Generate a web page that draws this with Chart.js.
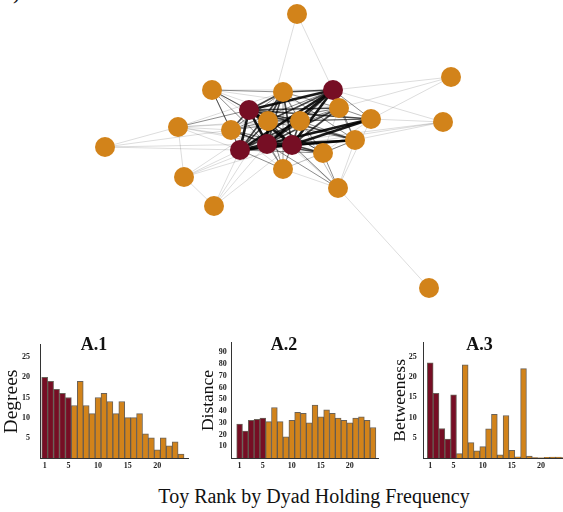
<!DOCTYPE html>
<html>
<head>
<meta charset="utf-8">
<script src="https://cdn.jsdelivr.net/npm/chart.js@4.4.0/dist/chart.umd.min.js"></script>
<style>
  html, body { margin: 0; padding: 0; background: #fff; width: 563px; height: 512px; overflow: hidden; }
  body { position: relative; }
  canvas { position: absolute; }
  .txt { position: absolute; font-family: 'Liberation Serif', 'Times New Roman', serif; color: #111; white-space: nowrap; }
</style>
</head>
<body>
<div class="txt" style="left:-3px; top:-19px; font-size:22px; line-height:22px; word-spacing:17px;">A) Observed</div>
<canvas id="netChart" width="563" height="320" style="left:0; top:0;"></canvas>
<canvas id="chartA1" width="210" height="148" style="left:0; top:330px;"></canvas>
<canvas id="chartA2" width="228" height="148" style="left:190px; top:330px;"></canvas>
<canvas id="chartA3" width="188" height="148" style="left:389px; top:330px;"></canvas>
<div class="txt" style="left:114px; width:400px; text-align:center; top:486px; font-size:20px; line-height:20px;">Toy Rank by Dyad Holding Frequency</div>
<script>
// toy ranks (1 = most held by dyads)
const ranks = [1, 2, 3, 4, 5, 6, 7, 8, 9, 10, 11, 12, 13, 14, 15, 16, 17, 18, 19, 20, 21, 22, 23, 24];
const topN = 5;

// bar panels
const degrees = [20, 19, 17, 16, 15, 13, 19, 13, 11, 15, 16, 14, 11, 14, 10, 10, 11, 6, 5, 2, 5, 3, 4, 1];
const distance = [29, 23, 32, 33, 34, 31, 43, 31, 18, 32, 39, 38, 30, 45, 35, 41, 38, 34, 32, 30, 34, 35, 32, 26];
const betweenness = [23.5, 16, 7.3, 4.7, 15.6, 1.1, 23, 3.8, 1.8, 2.8, 7.2, 10.8, 0.8, 10.5, 1.9, 0.3, 22.1, 0.5, 0.1, 0.05, 0.15, 0.2, 0.2, 0.1];

const xTicks = [1, 5, 10, 15, 20];
const degTicks = [5, 10, 15, 20, 25];
const distTicks = [10, 20, 30, 40, 50, 60, 70, 80, 90];
const betTicks = [5, 10, 15, 20, 25];

// network layout coordinates, by rank
const nodeX = [-0.13, 0.12, -0.40, -0.31, 0.53, 0.43, -0.12, 0.75, 0.91, 0.03, 0.20, -0.49, 0.03, 0.59, -1.02, -0.68, 0.58, -0.96, 1.63, 0.17, -0.66, 1.71, -1.75, 1.49];
const nodeY = [0.26, 0.25, 0.20, 0.60, 0.80, 0.17, 0.49, 0.30, 0.51, 0.78, 0.49, 0.40, 0.01, 0.62, 0.43, 0.80, -0.18, -0.07, 0.48, 1.56, -0.36, 0.93, 0.23, -1.18];

// co-holding ties: [rank a, rank b, strength 1-4]
const edges = [
  [1, 2, 4], [1, 4, 4], [1, 7, 4], [1, 11, 3], [2, 4, 4], [2, 7, 3], [2, 11, 3], [4, 7, 4], [4, 11, 3], [7, 11, 2],
  [1, 3, 4], [1, 5, 4], [1, 6, 3], [1, 8, 3], [1, 9, 4], [1, 10, 3], [1, 12, 3], [1, 13, 2], [1, 14, 3], [1, 15, 1], [1, 16, 2], [1, 17, 2],
  [2, 3, 4], [2, 5, 4], [2, 6, 3], [2, 8, 4], [2, 9, 4], [2, 10, 3], [2, 12, 2], [2, 13, 2], [2, 14, 3], [2, 15, 1], [2, 16, 1], [2, 17, 2],
  [4, 3, 4], [4, 5, 4], [4, 6, 2], [4, 8, 3], [4, 9, 3], [4, 10, 3], [4, 12, 3], [4, 13, 2], [4, 14, 3], [4, 15, 2], [4, 16, 2], [4, 17, 1],
  [7, 3, 3], [7, 5, 3], [7, 6, 2], [7, 8, 2], [7, 9, 2], [7, 10, 3], [7, 12, 2], [7, 13, 2], [7, 14, 2], [7, 15, 1], [7, 16, 2], [7, 17, 1],
  [11, 3, 3], [11, 5, 3], [11, 6, 2], [11, 8, 2], [11, 9, 2], [11, 10, 2], [11, 12, 2], [11, 13, 1], [11, 14, 2], [11, 15, 1], [11, 16, 1], [11, 17, 1],
  [3, 5, 4], [3, 6, 2], [3, 8, 3], [3, 10, 3], [3, 12, 2], [3, 13, 2], [3, 14, 2], [3, 15, 1], [3, 16, 2],
  [10, 5, 3], [10, 6, 1], [10, 8, 2], [10, 12, 2], [10, 14, 2], [10, 16, 2], [10, 15, 1], [10, 13, 1], [10, 17, 1],
  [12, 15, 1], [12, 16, 2], [12, 6, 1], [12, 13, 1], [12, 14, 1], [12, 5, 2],
  [14, 5, 3], [14, 8, 2], [14, 9, 2], [14, 6, 1], [14, 16, 1],
  [17, 6, 2], [17, 8, 1], [17, 13, 1], [17, 9, 1],
  [5, 8, 2], [5, 9, 2], [5, 16, 1], [6, 8, 2], [6, 9, 1], [6, 13, 1], [8, 13, 1],
  [24, 17, 1], [20, 7, 1], [20, 5, 1], [22, 5, 1], [22, 14, 1], [22, 9, 1],
  [23, 15, 1], [23, 12, 1], [23, 3, 1], [23, 1, 1],
  [21, 18, 1], [21, 3, 1], [21, 1, 1], [21, 7, 1], [21, 2, 1],
  [18, 3, 1], [18, 1, 1], [18, 2, 1], [18, 7, 1], [18, 15, 1],
  [19, 5, 1], [19, 9, 1], [19, 8, 1], [19, 1, 1], [19, 2, 1]
];

const MAROON = '#760E24';
const ORANGE = '#D2831A';
const serif = "'Liberation Serif', 'Times New Roman', serif";
Chart.defaults.font.family = serif;
Chart.defaults.color = '#222';

const rankColor = r => (r <= topN ? MAROON : ORANGE);

// network
const edgeStyle = {
  1: { color: 'rgba(0,0,0,0.2)', width: 0.7 },
  2: { color: 'rgba(0,0,0,0.45)', width: 1 },
  3: { color: 'rgba(0,0,0,0.72)', width: 1.7 },
  4: { color: 'rgba(0,0,0,0.9)', width: 2.6 }
};

const netData = [{
  data: ranks.map(r => ({ x: nodeX[r - 1], y: nodeY[r - 1] })),
  pointRadius: 10,
  pointHoverRadius: 10,
  pointBackgroundColor: ranks.map(rankColor),
  pointBorderWidth: 0,
  order: 0
}];
edges.forEach(([a, b, w]) => {
  netData.push({
    data: [{ x: nodeX[a - 1], y: nodeY[a - 1] }, { x: nodeX[b - 1], y: nodeY[b - 1] }],
    showLine: true,
    pointRadius: 0,
    borderColor: edgeStyle[w].color,
    borderWidth: edgeStyle[w].width,
    order: 5 - w
  });
});

new Chart(document.getElementById('netChart'), {
  type: 'scatter',
  data: { datasets: netData },
  options: {
    responsive: false,
    animation: false,
    layout: { padding: 0, autoPadding: false },
    plugins: { legend: { display: false }, tooltip: { enabled: false } },
    scales: {
      x: { display: false, min: -2.80, max: 2.83 },
      y: { display: false, min: -1.50, max: 1.70 }
    }
  }
});

// bar panels
function barPanel(id, p) {
  new Chart(document.getElementById(id), {
    type: 'bar',
    data: {
      labels: ranks,
      datasets: [{
        data: p.values,
        backgroundColor: ranks.map(rankColor),
        borderColor: 'rgba(80,70,60,0.85)',
        borderWidth: 1,
        categoryPercentage: 1,
        barPercentage: 1
      }]
    },
    options: {
      responsive: false,
      animation: false,
      layout: { padding: { left: 0, right: p.padRight, top: 0, bottom: 0 } },
      plugins: {
        legend: { display: false },
        tooltip: { enabled: false },
        title: {
          display: true,
          text: p.title,
          color: '#111',
          font: { family: serif, size: 18, weight: 'bold', lineHeight: 1.2 },
          padding: { top: 4.7, bottom: p.titleBottom }
        }
      },
      scales: {
        x: {
          type: 'linear',
          offset: false,
          min: p.xMin,
          max: p.xMax,
          grid: { display: false, drawTicks: false },
          border: { display: true, color: '#333', width: 1 },
          afterBuildTicks: s => { s.ticks = xTicks.map(v => ({ value: v })); },
          afterFit: s => { s.height = 20; },
          ticks: { autoSkip: false, maxRotation: 0, padding: 3, color: '#222', font: { size: 8, weight: 'bold' } }
        },
        y: {
          min: 0,
          max: p.yMax,
          grid: { display: false, drawTicks: false },
          border: { display: true, color: '#333', width: 1 },
          afterBuildTicks: s => { s.ticks = p.yTicks.map(v => ({ value: v })); },
          afterFit: s => { s.width = p.axisLeft; },
          ticks: { padding: p.tickPad, color: '#222', font: { size: 8, weight: 'bold' } },
          title: {
            display: true,
            text: p.yTitle,
            color: '#111',
            font: { family: serif, size: p.yTitleSize, lineHeight: 1.2 },
            padding: { top: p.yTitlePad, bottom: 0 }
          }
        }
      }
    }
  });
}

barPanel('chartA1', {
  title: 'A.1', yTitle: 'Degrees', values: degrees, yMax: 28, yTicks: degTicks, yTitleSize: 19.5,
  axisLeft: 40, padRight: 22, titleBottom: -11.3, yTitlePad: 0, tickPad: 10, xMin: 0.21, xMax: 25.17
});
barPanel('chartA2', {
  title: 'A.2', yTitle: 'Distance', values: distance, yMax: 98, yTicks: distTicks, yTitleSize: 17.5,
  axisLeft: 41.7, padRight: 40, titleBottom: -13.3, yTitlePad: 7.8, tickPad: 5, xMin: -0.36, xMax: 24.86
});
barPanel('chartA3', {
  title: 'A.3', yTitle: 'Betweeness', values: betweenness, yMax: 28.5, yTicks: betTicks, yTitleSize: 17.5,
  axisLeft: 34.3, padRight: 7, titleBottom: -13.6, yTitlePad: 0.5, tickPad: 6.6, xMin: -0.19, xMax: 24.97
});
</script>
</body>
</html>
